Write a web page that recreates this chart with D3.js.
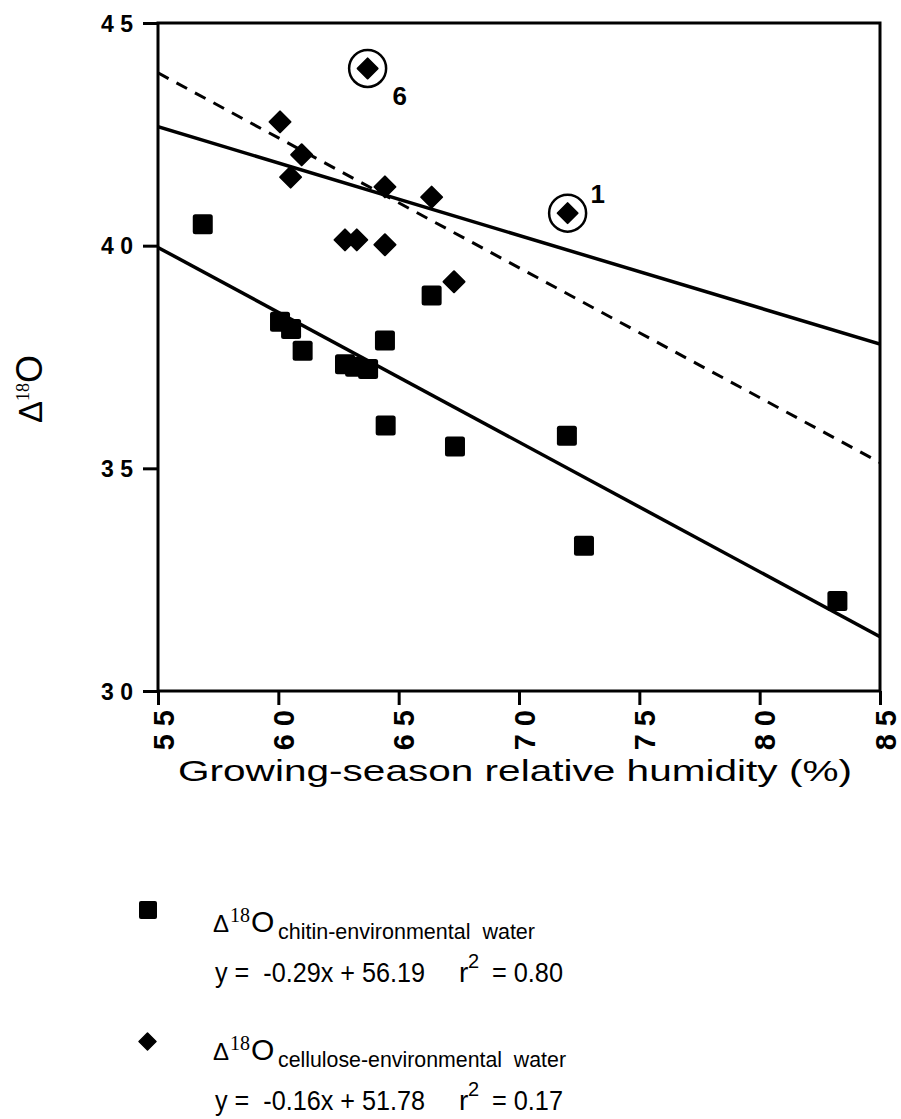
<!DOCTYPE html>
<html><head><meta charset="utf-8">
<script src="https://cdn.jsdelivr.net/npm/d3@7"></script>
<style>body{margin:0;background:#fff}</style>
</head><body>
<svg id="chart" width="901" height="1119" xmlns="http://www.w3.org/2000/svg"></svg>
<script>
// ---------- data ----------
const xTicks = [55, 60, 65, 70, 75, 80, 85];
const xTickLabels = ["5 5", "6 0", "6 5", "7 0", "7 5", "8 0", "8 5"];
const yTicks = [30, 35, 40, 45];
const yTickLabels = ["3 0", "3 5", "4 0", "4 5"];

const chitinX = [56.86, 60.07, 60.53, 61.01, 62.77, 63.19, 63.73, 64.43, 64.46, 66.37, 67.34, 71.99, 72.70, 83.23];
const chitinY = [40.48, 38.29, 38.13, 37.64, 37.34, 37.28, 37.23, 37.87, 35.96, 38.88, 35.49, 35.73, 33.26, 32.02];

const celluloseX = [60.07, 60.97, 60.51, 64.43, 66.37, 62.77, 63.26, 64.43, 67.30];
const celluloseY = [42.78, 42.04, 41.54, 41.32, 41.09, 40.13, 40.13, 40.02, 39.19];

const circledX = [63.71, 72.02];
const circledY = [43.98, 40.73];
const circledLabels = ["6", "1"];

const chitinFit = [[55, 39.96], [85, 31.22]];
const celluloseFit = [[55, 42.67], [85, 37.79]];
const dashedFit = [[55, 43.88], [85, 35.13]];

const xTitle = "Growing-season relative humidity (%)";
const legendSubscripts = ["chitin-environmental  water", "cellulose-environmental  water"];
const legendEqLeft = ["y =  -0.29x + 56.19", "y =  -0.16x + 51.78"];
const legendR2 = ["= 0.80", "= 0.17"];

// ---------- layout ----------
const svg = d3.select("#chart");
const L = 158, R = 880, T = 23, B = 691;
const x = d3.scaleLinear().domain([55, 85]).range([L, R]);
const y = d3.scaleLinear().domain([30, 45]).range([B, T]);
const sans = "'Liberation Sans', Arial, Helvetica, sans-serif";
const serif = "'Liberation Serif', 'Times New Roman', serif";

// axes
const yAxis = d3.axisLeft(y).tickValues(yTicks).tickSize(15).tickPadding(10)
  .tickFormat((d, i) => yTickLabels[i]);
const gy = svg.append("g").attr("transform", `translate(${L},0)`).call(yAxis);
gy.attr("font-size", null).attr("font-family", null);
gy.select(".domain").remove();
gy.selectAll("line").attr("stroke", "#000").attr("stroke-width", 3);
gy.selectAll("text").attr("font-family", sans).attr("font-weight", "bold")
  .attr("font-size", 23).attr("fill", "#000").attr("dy", "0.36em");

const xAxis = d3.axisBottom(x).tickValues(xTicks).tickSize(14)
  .tickFormat((d, i) => xTickLabels[i]);
const gx = svg.append("g").attr("transform", `translate(0,${B})`).call(xAxis);
gx.attr("font-size", null).attr("font-family", null);
gx.select(".domain").remove();
gx.selectAll("line").attr("stroke", "#000").attr("stroke-width", 3);
gx.selectAll("text").attr("font-family", sans).attr("font-weight", "bold")
  .attr("font-size", 29).attr("fill", "#000")
  .attr("text-anchor", "end").attr("dy", null)
  .attr("transform", "translate(15,19) rotate(-90)")
  .attr("x", 0).attr("y", 0);

// frame
svg.append("rect").attr("x", L).attr("y", T).attr("width", R - L).attr("height", B - T)
  .attr("fill", "none").attr("stroke", "#000").attr("stroke-width", 3);

// clip for fit lines
svg.append("clipPath").attr("id", "plotclip").append("rect")
  .attr("x", L).attr("y", T).attr("width", R - L).attr("height", B - T);

const line = d3.line().x(d => x(d[0])).y(d => y(d[1]));
const gl = svg.append("g").attr("clip-path", "url(#plotclip)");
gl.append("path").attr("d", line(chitinFit)).attr("stroke", "#000").attr("stroke-width", 3.5).attr("fill", "none");
gl.append("path").attr("d", line(celluloseFit)).attr("stroke", "#000").attr("stroke-width", 3.5).attr("fill", "none");
gl.append("path").attr("d", line(dashedFit)).attr("stroke", "#000").attr("stroke-width", 3)
  .attr("stroke-dasharray", "12,9").attr("fill", "none");

// markers
const sq = 20, dh = 10.5;
const diamond = (cx, cy, h) => `M${cx},${cy - h}L${cx + h},${cy}L${cx},${cy + h}L${cx - h},${cy}Z`;

svg.append("g").selectAll("rect").data(chitinX).join("rect")
  .attr("x", (d, i) => x(d) - sq / 2).attr("y", (d, i) => y(chitinY[i]) - sq / 2)
  .attr("width", sq).attr("height", sq).attr("rx", 2.5).attr("fill", "#000");

svg.append("g").selectAll("path").data(celluloseX).join("path")
  .attr("d", (d, i) => diamond(x(d), y(celluloseY[i]), dh))
  .attr("fill", "#000").attr("stroke", "#000").attr("stroke-width", 2).attr("stroke-linejoin", "round");

// circled outliers
const gc = svg.append("g");
circledX.forEach((cx, i) => {
  const px = x(cx), py = y(circledY[i]);
  gc.append("circle").attr("cx", px).attr("cy", py).attr("r", 18.5)
    .attr("fill", "none").attr("stroke", "#000").attr("stroke-width", 2.5);
  gc.append("path").attr("d", diamond(px, py, 10))
    .attr("fill", "#000").attr("stroke", "#000").attr("stroke-width", 2).attr("stroke-linejoin", "round");
});
gc.append("text").attr("x", x(circledX[0]) + 25).attr("y", y(circledY[0]) + 37)
  .attr("font-family", sans).attr("font-weight", "bold").attr("font-size", 26).text(circledLabels[0]);
gc.append("text").attr("x", x(circledX[1]) + 23).attr("y", y(circledY[1]) - 10)
  .attr("font-family", sans).attr("font-weight", "bold").attr("font-size", 26).text(circledLabels[1]);

// axis titles
svg.append("text").attr("x", 178).attr("y", 781)
  .attr("font-family", sans).attr("font-size", 30).attr("textLength", 674)
  .attr("lengthAdjust", "spacingAndGlyphs").text(xTitle);

const yt = svg.append("text").attr("transform", "translate(42,423) rotate(-90)")
  .attr("font-family", sans).attr("fill", "#000");
yt.append("tspan").attr("font-size", 33).text("Δ");
yt.append("tspan").attr("font-family", serif).attr("font-size", 18).attr("dy", -13).text("18");
yt.append("tspan").attr("font-size", 36).attr("dy", 13).text("O");

// legend
const legendY = [932, 1060];
svg.append("rect").attr("x", 139).attr("y", 901).attr("width", 18).attr("height", 18).attr("rx", 2).attr("fill", "#000");
svg.append("path").attr("d", diamond(147.5, 1041.5, 8.5)).attr("fill", "#000")
  .attr("stroke", "#000").attr("stroke-width", 1.5).attr("stroke-linejoin", "round");

legendY.forEach((by, i) => {
  svg.append("text").attr("x", 213).attr("y", by).attr("font-family", sans).attr("font-size", 24).text("Δ");
  svg.append("text").attr("x", 230).attr("y", by - 10).attr("font-family", serif).attr("font-size", 20).text("18");
  svg.append("text").attr("x", 251).attr("y", by).attr("font-family", sans).attr("font-size", 30).text("O");
  const subW = i === 0 ? 258 : 289;
  svg.append("text").attr("x", 278).attr("y", by + 7).attr("font-family", sans).attr("font-size", 22)
    .attr("textLength", subW - 1).attr("lengthAdjust", "spacingAndGlyphs").attr("xml:space", "preserve").text(legendSubscripts[i]);
  const ey = by + 50;
  svg.append("text").attr("x", 215).attr("y", ey).attr("font-family", sans).attr("font-size", 28)
    .attr("textLength", 210).attr("lengthAdjust", "spacingAndGlyphs").attr("xml:space", "preserve").text(legendEqLeft[i]);
  svg.append("text").attr("x", 459).attr("y", ey).attr("font-family", sans).attr("font-size", 28).text("r");
  svg.append("text").attr("x", 468).attr("y", ey - 14).attr("font-family", sans).attr("font-size", 20).text("2");
  svg.append("text").attr("x", 492).attr("y", ey).attr("font-family", sans).attr("font-size", 28)
    .attr("textLength", 71).attr("lengthAdjust", "spacingAndGlyphs").text(legendR2[i]);
});
</script>
</body></html>
